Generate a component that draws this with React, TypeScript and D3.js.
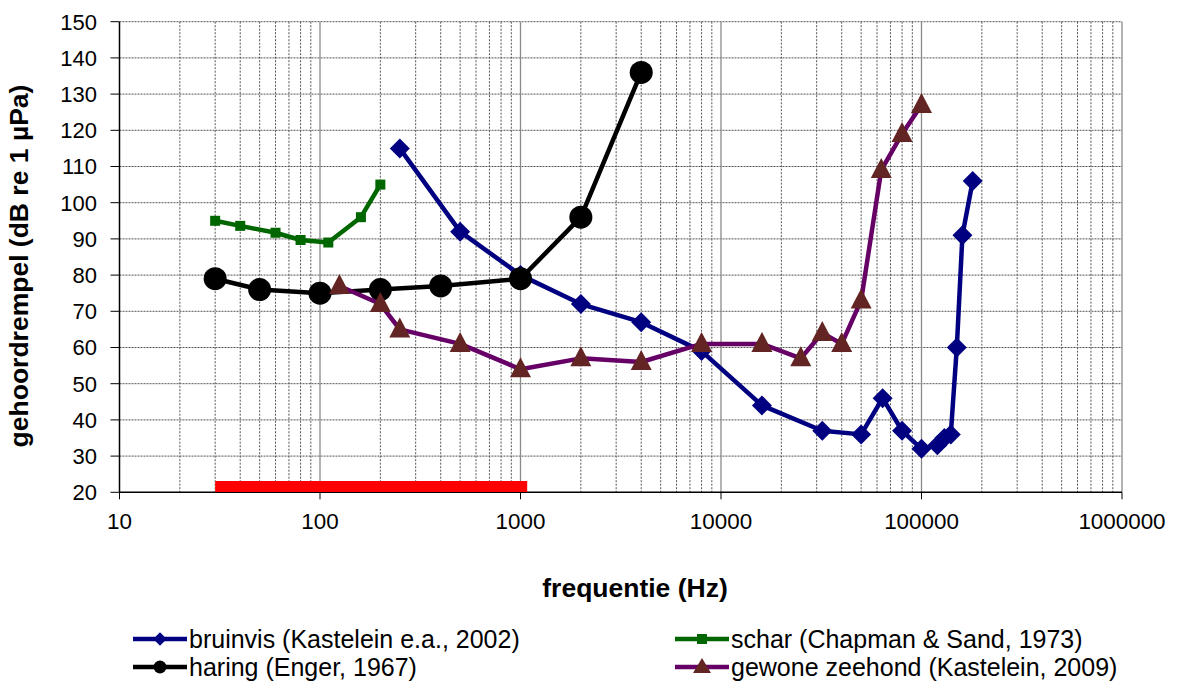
import React from "react";
import * as d3 from "d3";

const bruinvisFreq = [250, 500, 1000, 2000, 4000, 8000, 16000, 32000, 50000, 64000, 80000, 100000, 120000, 130000, 140000, 150000, 160000, 180000];
const bruinvisDb = [115, 92, 80, 72, 67, 59, 44, 37, 36, 46, 37, 32, 33, 35, 36, 60, 91, 106];

const scharFreq = [30, 40, 60, 80, 110, 160, 200];
const scharDb = [95, 93.6, 91.7, 89.7, 89, 96, 105];

const haringFreq = [30, 50, 100, 200, 400, 1000, 2000, 4000];
const haringDb = [79, 76, 75, 76, 77, 79, 96, 136];

const zeehondFreq = [125, 200, 250, 500, 1000, 2000, 4000, 8000, 16000, 25000, 32000, 40000, 50000, 63000, 80000, 100000];
const zeehondDb = [77, 72, 65, 61, 54, 57, 56, 61, 61, 57, 64, 61, 73, 109, 119, 127];

const redBandFreq = [30, 1080];
const redBandDb = [21.6, 21.6];

const xTickValues = [10, 100, 1000, 10000, 100000, 1000000];
const yTickValues = [20, 30, 40, 50, 60, 70, 80, 90, 100, 110, 120, 130, 140, 150];

const legendLabels = [
  "bruinvis (Kastelein e.a., 2002)",
  "schar (Chapman & Sand, 1973)",
  "haring (Enger, 1967)",
  "gewone zeehond (Kastelein, 2009)",
];

const FONT = "'Liberation Sans', Arial, Helvetica, sans-serif";

type Pt = { f: number; v: number };
const zip = (fs: number[], vs: number[]): Pt[] => fs.map((f, i) => ({ f, v: vs[i] }));

const diamondPath = (s: number) => `M0,${-s}L${s},0L0,${s}L${-s},0Z`;
const trianglePath = (w: number, h: number) => `M0,${-h * 0.6}L${w / 2},${h * 0.4}L${-w / 2},${h * 0.4}Z`;

export default function App() {
  const x = d3.scaleLog().domain([10, 1000000]).range([119.5, 1122]);
  const y = d3.scaleLinear().domain([20, 150]).range([492.3, 21.7]);
  const line = d3
    .line<Pt>()
    .x((d) => x(d.f))
    .y((d) => y(d.v));

  const minorX: number[] = [];
  for (let dec = 10; dec < 1000000; dec *= 10) {
    for (let k = 2; k <= 9; k++) minorX.push(dec * k);
  }

  const bruinvis = zip(bruinvisFreq, bruinvisDb);
  const schar = zip(scharFreq, scharDb);
  const haring = zip(haringFreq, haringDb);
  const zeehond = zip(zeehondFreq, zeehondDb);
  const red = zip(redBandFreq, redBandDb);

  const blue = "#000080";
  const green = "#006600";
  const purple = "#660066";
  const brown = "#632523";

  const [x0, x1] = x.range();
  const [yb, yt] = y.range();

  const legendRows = [639, 667];
  const legendCols = [133, 675];
  const legendItems = [
    { label: legendLabels[0], color: blue, marker: "diamond", col: 0, row: 0 },
    { label: legendLabels[1], color: green, marker: "square", col: 1, row: 0 },
    { label: legendLabels[2], color: "#000000", marker: "circle", col: 0, row: 1 },
    { label: legendLabels[3], color: purple, marker: "triangle", col: 1, row: 1 },
  ];

  const renderLegendMarker = (m: string, cx: number, cy: number) => {
    if (m === "diamond") return <path d={diamondPath(6.7)} transform={`translate(${cx},${cy})`} fill={blue} />;
    if (m === "square") return <rect x={cx - 5} y={cy - 5} width={10} height={10} fill={green} />;
    if (m === "circle") return <circle cx={cx} cy={cy} r={6.5} fill="#000" />;
    return <path d={trianglePath(18, 15)} transform={`translate(${cx},${cy})`} fill={brown} />;
  };

  return (
    <svg
      width={1177}
      height={684}
      style={{ position: "absolute", left: 0, top: 0, background: "#fff" }}
      fontFamily={FONT}
    >
      <rect x={0} y={0} width={1177} height={684} fill="#fff" />
      {/* minor vertical gridlines */}
      {minorX.map((f) => (
        <line key={"mx" + f} x1={x(f)} x2={x(f)} y1={yt} y2={yb} stroke="#555" strokeWidth={1} strokeDasharray="2,1.5" />
      ))}
      {/* horizontal gridlines */}
      {yTickValues.filter((v) => v > 20).map((v) => (
        <line key={"hy" + v} x1={x0} x2={x1} y1={y(v)} y2={y(v)} stroke="#555" strokeWidth={1} strokeDasharray="2,1" />
      ))}
      {/* major vertical gridlines */}
      {xTickValues.filter((f) => f > 10).map((f) => (
        <line key={"Mx" + f} x1={x(f)} x2={x(f)} y1={yt} y2={yb} stroke="#8a8a8a" strokeWidth={1.3} />
      ))}
      {/* axes */}
      <line x1={x0} x2={x0} y1={yt} y2={yb} stroke="#000" strokeWidth={1.5} />
      <line x1={x0} x2={x1} y1={yb} y2={yb} stroke="#000" strokeWidth={1.5} />
      {yTickValues.map((v) => (
        <g key={"yt" + v}>
          <line x1={x0 - 9} x2={x0} y1={y(v)} y2={y(v)} stroke="#000" strokeWidth={1} />
          <text x={97} y={y(v)} dy="0.36em" textAnchor="end" fontSize={22} fill="#000">
            {v}
          </text>
        </g>
      ))}
      {xTickValues.map((f) => (
        <g key={"xt" + f}>
          <line x1={x(f)} x2={x(f)} y1={yb} y2={yb + 7} stroke="#000" strokeWidth={1} />
          <text x={x(f)} y={529} textAnchor="middle" fontSize={22.4} fill="#000">
            {f}
          </text>
        </g>
      ))}
      {/* axis titles */}
      <text x={635} y={597} textAnchor="middle" fontSize={26.5} fontWeight="bold" fill="#000">
        frequentie (Hz)
      </text>
      <text
        transform={`translate(27.5,266) rotate(-90)`}
        textAnchor="middle"
        fontSize={26.5}
        fontWeight="bold"
        fill="#000"
      >
        gehoordrempel (dB re 1 µPa)
      </text>

      {/* red band */}
      <path d={line(red) || ""} fill="none" stroke="#ff0000" strokeWidth={11} />

      {/* bruinvis */}
      <path d={line(bruinvis) || ""} fill="none" stroke={blue} strokeWidth={4.5} strokeLinejoin="round" />
      {bruinvis.map((d, i) => (
        <path key={"b" + i} d={diamondPath(10)} transform={`translate(${x(d.f)},${y(d.v)})`} fill={blue} />
      ))}

      {/* schar */}
      <path d={line(schar) || ""} fill="none" stroke={green} strokeWidth={4.5} strokeLinejoin="round" />
      {schar.map((d, i) => (
        <rect key={"s" + i} x={x(d.f) - 5} y={y(d.v) - 5} width={10} height={10} fill={green} />
      ))}

      {/* haring */}
      <path d={line(haring) || ""} fill="none" stroke="#000" strokeWidth={4.5} strokeLinejoin="round" />
      {haring.map((d, i) => (
        <circle key={"h" + i} cx={x(d.f)} cy={y(d.v)} r={11.5} fill="#000" />
      ))}

      {/* zeehond */}
      <path d={line(zeehond) || ""} fill="none" stroke={purple} strokeWidth={4.5} strokeLinejoin="round" />
      {zeehond.map((d, i) => (
        <path key={"z" + i} d={trianglePath(21, 20)} transform={`translate(${x(d.f)},${y(d.v)})`} fill={brown} />
      ))}

      {/* legend */}
      {legendItems.map((it, i) => {
        const lx = legendCols[it.col];
        const ly = legendRows[it.row];
        return (
          <g key={"lg" + i}>
            <line x1={lx} x2={lx + 54} y1={ly} y2={ly} stroke={it.color} strokeWidth={4.5} />
            {renderLegendMarker(it.marker, lx + 27, ly)}
            <text x={lx + 56} y={ly} dy="0.35em" fontSize={25} fill="#000">
              {it.label}
            </text>
          </g>
        );
      })}
    </svg>
  );
}
